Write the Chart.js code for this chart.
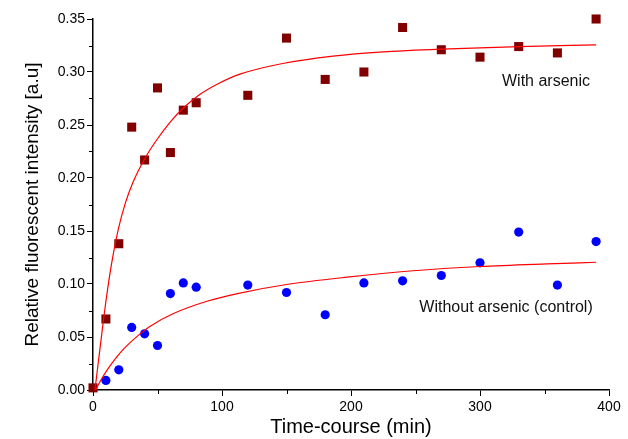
<!DOCTYPE html>
<html>
<head>
<meta charset="utf-8">
<script src="https://cdn.jsdelivr.net/npm/chart.js@4.4.1/dist/chart.umd.min.js"></script>
<style>
  html, body { margin: 0; padding: 0; background: #fff; }
  #wrap { width: 628px; height: 439px; }
</style>
</head>
<body>
<div id="wrap"><canvas id="c" width="628" height="439"></canvas></div>
<script>
// ---- data ----
const timeArsenic = [0, 10, 20, 30, 40, 50, 60, 70, 80, 120, 150, 180, 210, 240, 270, 300, 330, 360, 390];
const withArsenic = [0.002, 0.067, 0.138, 0.248, 0.217, 0.285, 0.224, 0.264, 0.271, 0.278, 0.332, 0.293, 0.300, 0.342, 0.321, 0.314, 0.324, 0.318, 0.350];

const timeControl = [10, 20, 30, 40, 50, 60, 70, 80, 120, 150, 180, 210, 240, 270, 300, 330, 360, 390];
const withoutArsenic = [0.009, 0.019, 0.059, 0.053, 0.042, 0.091, 0.101, 0.097, 0.099, 0.092, 0.071, 0.101, 0.103, 0.108, 0.120, 0.149, 0.099, 0.140];

// fitted curves
const fitTimeArsenic = [1.5, 4, 7, 10.5, 14.5, 19.5, 25, 31, 40, 50, 60, 70, 83, 97, 114, 147, 186, 225, 270, 330, 390];
const fitArsenic = [0, 0.025, 0.055, 0.088, 0.120, 0.151, 0.176, 0.196, 0.218, 0.237, 0.253, 0.266, 0.279, 0.289, 0.298, 0.308, 0.315, 0.319, 0.3215, 0.324, 0.3255];

const fitTimeControl = [2, 5.5, 10.5, 18, 24, 36, 44, 62, 89, 112, 150, 197, 248, 300, 352, 390];
const fitControl = [0, 0.008, 0.018, 0.0305, 0.039, 0.0525, 0.060, 0.072, 0.084, 0.091, 0.0995, 0.1065, 0.1125, 0.1165, 0.119, 0.1205];

const xTicks = [0, 100, 200, 300, 400];
const yTicks = [0.00, 0.05, 0.10, 0.15, 0.20, 0.25, 0.30, 0.35];

const labelArsenic = 'With arsenic';
const labelControl = 'Without arsenic (control)';
const xTitle = 'Time-course (min)';
const yTitle = 'Relative fluorescent intensity [a.u]';

const pts = (xs, ys) => xs.map((x, i) => ({ x: x, y: ys[i] }));

const FONT = '"Liberation Sans", Arial, sans-serif';

// minor ticks plugin
const minorTicks = {
  id: 'minorTicks',
  afterDraw(chart) {
    const ctx = chart.ctx;
    const xs = chart.scales.x, ys = chart.scales.y;
    const area = chart.chartArea;
    ctx.save();
    ctx.strokeStyle = '#000';
    ctx.lineWidth = 1;
    for (let i = 0; i < xTicks.length - 1; i++) {
      const v = (xTicks[i] + xTicks[i + 1]) / 2;
      const px = Math.round(xs.getPixelForValue(v)) + 0.5;
      ctx.beginPath();
      ctx.moveTo(px, area.bottom);
      ctx.lineTo(px, area.bottom + 4);
      ctx.stroke();
    }
    for (let i = 0; i < yTicks.length - 1; i++) {
      const v = (yTicks[i] + yTicks[i + 1]) / 2;
      const py = Math.round(ys.getPixelForValue(v)) + 0.5;
      ctx.beginPath();
      ctx.moveTo(area.left, py);
      ctx.lineTo(area.left - 4, py);
      ctx.stroke();
    }
    ctx.restore();
  }
};

// curve labels
const curveLabels = {
  id: 'curveLabels',
  afterDatasetsDraw(chart) {
    const ctx = chart.ctx;
    const xs = chart.scales.x, ys = chart.scales.y;
    ctx.save();
    ctx.font = '16px ' + FONT;
    ctx.fillStyle = '#111';
    ctx.textAlign = 'right';
    ctx.textBaseline = 'middle';
    ctx.fillText(labelArsenic, xs.getPixelForValue(385.3), ys.getPixelForValue(0.2905));
    ctx.fillText(labelControl, xs.getPixelForValue(387.4), ys.getPixelForValue(0.0775));
    ctx.restore();
  }
};

new Chart(document.getElementById('c'), {
  type: 'scatter',
  data: {
    datasets: [
      {
        type: 'line',
        label: 'fit with arsenic',
        data: pts(fitTimeArsenic, fitArsenic),
        borderColor: '#ff0000',
        borderWidth: 1.2,
        pointRadius: 0,
        fill: false,
        cubicInterpolationMode: 'monotone',
        clip: false
      },
      {
        type: 'line',
        label: 'fit control',
        data: pts(fitTimeControl, fitControl),
        borderColor: '#ff0000',
        borderWidth: 1.2,
        pointRadius: 0,
        fill: false,
        cubicInterpolationMode: 'monotone',
        clip: false
      },
      {
        label: labelArsenic,
        data: pts(timeArsenic, withArsenic),
        pointStyle: 'rect',
        pointRadius: 6.4,
        pointBackgroundColor: '#800000',
        pointBorderColor: '#800000',
        pointBorderWidth: 0,
        clip: false
      },
      {
        label: labelControl,
        data: pts(timeControl, withoutArsenic),
        pointStyle: 'circle',
        pointRadius: 4.6,
        pointBackgroundColor: '#0000ff',
        pointBorderColor: '#0000ff',
        pointBorderWidth: 0,
        clip: false
      }
    ]
  },
  options: {
    responsive: false,
    animation: false,
    events: [],
    layout: { padding: { top: 19, right: 19, left: 0, bottom: 0 } },
    plugins: { legend: { display: false }, tooltip: { enabled: false } },
    scales: {
      x: {
        type: 'linear',
        min: 0, max: 400,
        afterBuildTicks: (s) => { s.ticks = xTicks.map(v => ({ value: v })); },
        afterFit: (s) => { s.height = 49; },
        border: { display: true, color: '#000', width: 1.5 },
        grid: { display: true, drawOnChartArea: false, drawTicks: true, tickLength: 6, tickColor: '#000', tickWidth: 1 },
        ticks: { color: '#000', padding: 3, font: { family: FONT, size: 14 }, maxRotation: 0, autoSkip: false,
                 callback: (v) => String(v) },
        title: { display: true, text: xTitle, color: '#000', font: { family: FONT, size: 20 }, padding: { top: 0, bottom: 0 } }
      },
      y: {
        type: 'linear',
        min: 0, max: 0.35,
        afterBuildTicks: (s) => { s.ticks = yTicks.map(v => ({ value: v })); },
        afterFit: (s) => { s.width = 93; },
        border: { display: true, color: '#000', width: 1.5 },
        grid: { display: true, drawOnChartArea: false, drawTicks: true, tickLength: 6, tickColor: '#000', tickWidth: 1 },
        ticks: { color: '#000', padding: 2, font: { family: FONT, size: 14 }, autoSkip: false,
                 callback: (v) => Number(v).toFixed(2) },
        title: { display: true, text: yTitle, color: '#000', font: { family: FONT, size: 19 }, padding: { top: 21, bottom: 0 } }
      }
    }
  },
  plugins: [minorTicks, curveLabels]
});
</script>
</body>
</html>
